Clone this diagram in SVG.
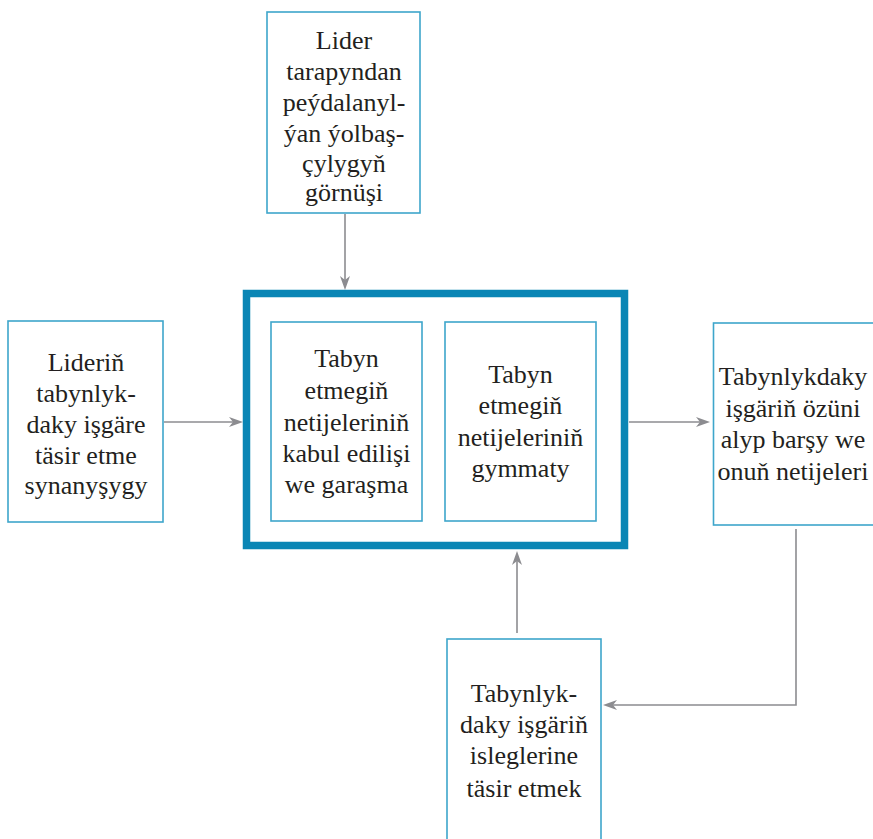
<svg xmlns="http://www.w3.org/2000/svg" width="873" height="839" viewBox="0 0 873 839">
<rect width="873" height="839" fill="#fff"/>
<g id="connectors" stroke="#8c8c90" stroke-width="1.6" fill="none">
<line x1="345" y1="214" x2="345" y2="280"/>
<polygon points="340,276 345,290 350,276 345,280" fill="#8c8c90" stroke="none"/>
<line x1="164" y1="422" x2="234" y2="422"/>
<polygon points="229,417 243,422 229,427 233,422" fill="#8c8c90" stroke="none"/>
<line x1="629" y1="422" x2="700" y2="422"/>
<polygon points="696,417 710,422 696,427 700,422" fill="#8c8c90" stroke="none"/>
<polyline points="796,529 796,705 612,705"/>
<polygon points="617,700 603,705 617,710 613,705" fill="#8c8c90" stroke="none"/>
<line x1="517" y1="633" x2="517" y2="560"/>
<polygon points="512,565 517,551 522,565 517,561" fill="#8c8c90" stroke="none"/>
</g>
<g id="top">
<rect x="267" y="12" width="153" height="201" fill="#fff" stroke="#3ea6cb" stroke-width="1.6"/>
<text x="344" y="49" font-family="Liberation Serif" font-size="26" fill="#231f20" text-anchor="middle">Lider</text>
<text x="344" y="80" font-family="Liberation Serif" font-size="26" fill="#231f20" text-anchor="middle">tarapyndan</text>
<text x="344" y="111" font-family="Liberation Serif" font-size="26" fill="#231f20" text-anchor="middle">peýdalanyl-</text>
<text x="344" y="141.5" font-family="Liberation Serif" font-size="26" fill="#231f20" text-anchor="middle">ýan ýolbaş-</text>
<text x="344" y="172" font-family="Liberation Serif" font-size="26" fill="#231f20" text-anchor="middle">çylygyň</text>
<text x="344" y="201" font-family="Liberation Serif" font-size="26" fill="#231f20" text-anchor="middle">görnüşi</text>
</g>
<g id="left">
<rect x="8" y="321" width="155" height="201" fill="#fff" stroke="#3ea6cb" stroke-width="1.6"/>
<text x="86" y="371" font-family="Liberation Serif" font-size="26" fill="#231f20" text-anchor="middle">Lideriň</text>
<text x="86" y="402" font-family="Liberation Serif" font-size="26" fill="#231f20" text-anchor="middle">tabynlyk-</text>
<text x="86" y="433" font-family="Liberation Serif" font-size="26" fill="#231f20" text-anchor="middle">daky işgäre</text>
<text x="86" y="464" font-family="Liberation Serif" font-size="26" fill="#231f20" text-anchor="middle">täsir etme</text>
<text x="86" y="494" font-family="Liberation Serif" font-size="26" fill="#231f20" text-anchor="middle">synanyşygy</text>
</g>
<g id="center">
<rect x="246.5" y="293.5" width="378" height="252" fill="#fff" stroke="#0a86b5" stroke-width="7.5"/>
</g>
<g id="inner1">
<rect x="271" y="322" width="151" height="199" fill="#fff" stroke="#3ea6cb" stroke-width="1.6"/>
<text x="346.5" y="367" font-family="Liberation Serif" font-size="26" fill="#231f20" text-anchor="middle">Tabyn</text>
<text x="346.5" y="399" font-family="Liberation Serif" font-size="26" fill="#231f20" text-anchor="middle">etmegiň</text>
<text x="346.5" y="431" font-family="Liberation Serif" font-size="26" fill="#231f20" text-anchor="middle">netijeleriniň</text>
<text x="346.5" y="462" font-family="Liberation Serif" font-size="26" fill="#231f20" text-anchor="middle">kabul edilişi</text>
<text x="346.5" y="493" font-family="Liberation Serif" font-size="26" fill="#231f20" text-anchor="middle">we garaşma</text>
</g>
<g id="inner2">
<rect x="445" y="322" width="151" height="199" fill="#fff" stroke="#3ea6cb" stroke-width="1.6"/>
<text x="520.5" y="383" font-family="Liberation Serif" font-size="26" fill="#231f20" text-anchor="middle">Tabyn</text>
<text x="520.5" y="414" font-family="Liberation Serif" font-size="26" fill="#231f20" text-anchor="middle">etmegiň</text>
<text x="520.5" y="446" font-family="Liberation Serif" font-size="26" fill="#231f20" text-anchor="middle">netijeleriniň</text>
<text x="520.5" y="477" font-family="Liberation Serif" font-size="26" fill="#231f20" text-anchor="middle">gymmaty</text>
</g>
<g id="right">
<rect x="713.5" y="323" width="180" height="202" fill="#fff" stroke="#3ea6cb" stroke-width="1.6"/>
<text x="793" y="385" font-family="Liberation Serif" font-size="26" fill="#231f20" text-anchor="middle">Tabynlykdaky</text>
<text x="793" y="417" font-family="Liberation Serif" font-size="26" fill="#231f20" text-anchor="middle">işgäriň özüni</text>
<text x="793" y="448" font-family="Liberation Serif" font-size="26" fill="#231f20" text-anchor="middle">alyp barşy we</text>
<text x="793" y="480" font-family="Liberation Serif" font-size="26" fill="#231f20" text-anchor="middle">onuň netijeleri</text>
</g>
<g id="bottom">
<rect x="447" y="639" width="154" height="220" fill="#fff" stroke="#3ea6cb" stroke-width="1.6"/>
<text x="524" y="702" font-family="Liberation Serif" font-size="26" fill="#231f20" text-anchor="middle">Tabynlyk-</text>
<text x="524" y="733" font-family="Liberation Serif" font-size="26" fill="#231f20" text-anchor="middle">daky işgäriň</text>
<text x="524" y="764" font-family="Liberation Serif" font-size="26" fill="#231f20" text-anchor="middle">isleglerine</text>
<text x="524" y="797" font-family="Liberation Serif" font-size="26" fill="#231f20" text-anchor="middle">täsir etmek</text>
</g>
</svg>
